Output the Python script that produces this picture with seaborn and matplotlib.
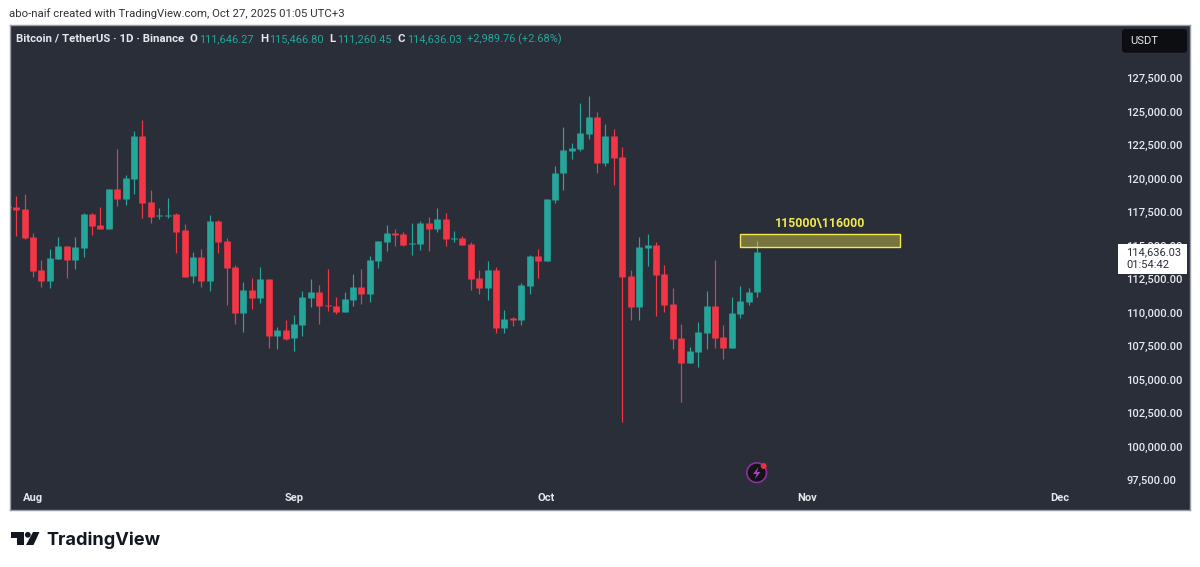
import matplotlib
matplotlib.use("Agg")
import matplotlib.pyplot as plt
import matplotlib.dates as mdates
from matplotlib.patches import FancyBboxPatch, Rectangle, Circle, Polygon
from matplotlib.transforms import IdentityTransform, ScaledTranslation
import numpy as np
import pandas as pd
import seaborn as sns

# ---------- data (BTC/USDT daily) ----------
first_day = "2025-07-29"
opens = [118070, 117994, 117845,
    115755,113292,112471,114113,115058,114063,114934,117497,116651,116377,119313,118616,120084,123294,118342,117322,117322,117447,116253,112819,114262,112471,116949,115456,113516,110082,111774,111202,112595,108366,108814,
    108192,109188,111203,111676,110705,110631,110158,111054,112024,111477,113940,115383,116030,115955,115209,115258,116801,116353,117099,115582,115681,115258,112671,111949,113293,108964,109685,109586,112099,114338,
    113988,118517,120507,122174,122298,123443,124712,121253,123294,121701,112819,110555,114934,115183,113018,110779,108191,106350,107146,108589,110580,108316,107470,110008,110903,111646.27]
closes = [117920, 117770, 115680,
    113217,112446,114212,115058,114063,114984,117497,116576,116352,119313,118616,120159,123294,118268,117273,117422,117422,116153,112794,114262,112471,116949,115382,113441,110082,111774,111202,112595,108366,108813,108143,
    109237,111278,111676,110631,110581,110133,111103,112049,111477,114014,115457,116030,115930,115159,115308,116801,116353,117099,115607,115681,115184,112596,111974,113293,108964,109635,109586,112173,114338,113989,
    118616,120557,122249,122373,123517,124712,121278,123294,121627,112744,110555,114984,115183,112943,110704,108117,106350,107221,108689,110580,108241,107470,110082,110978,111625,114636.03]
highs = [118070, 118815, 118964,
    116078,114038,114834,115755,115058,115755,117571,117571,117969,119313,122348,120358,123642,124488,119263,117919,118641,117571,116700,114610,114834,117397,117049,115655,113640,112421,112670,113541,112645,109012,109561,
    109934,111750,112596,112198,113367,111302,111651,112994,113343,114338,115457,116627,116378,116129,116826,116975,117274,117920,117522,116179,115831,115358,113293,113940,113492,110307,109760,112347,114412,114835,
    118616,121054,123940,122796,125732,126279,125085,124189,123791,122497,113292,115730,115979,115382,113640,111948,109261,107520,109435,111699,114038,109162,111252,112098,111923,115466.80]
lows = [117920, 115830, 115581,
    112744,112048,111923,114113,112670,113366,114287,115904,116327,116377,118069,118168,118989,117198,116775,117123,117148,114586,112744,112346,112048,111699,114536,110679,109261,108689,110356,110854,107445,107370,108068,
    107222,108367,110556,109262,110257,110009,110158,110606,110755,110929,113442,114736,115109,115084,114437,114761,114686,116129,115084,115383,115159,111800,111477,111054,108615,108615,109113,109163,111501,112671,
    113988,118268,119263,121552,122199,123095,120557,121054,119636,101971,109560,109560,113615,109858,110157,107370,103464,106325,106077,107420,107445,106624,107470,109709,110679,111260.45]

price_ticks = [97500,100000,102500,105000,107500,110000,112500,115000,117500,120000,122500,125000,127500]
month_ticks = ["2025-08-01","2025-09-01","2025-10-01","2025-11-01","2025-12-01"]
month_labels = ["Aug","Sep","Oct","Nov","Dec"]
zone_low, zone_high = 115000, 116000
zone_start, zone_end = "2025-10-24", "2025-11-12"
zone_label = "115000\\116000"

BG = "#2a2e39"; UP = "#26a69a"; DOWN = "#f23645"; TXT = "#e6e8ee"; YEL = "#f4e84f"

# ---------- frame ----------
W, H = 1200, 567
sns.set_theme(style="dark", rc={"axes.facecolor": BG, "figure.facecolor": "white",
                                "axes.edgecolor": "#9a9ea8", "axes.grid": False})
plt.rcParams["font.family"] = ["Roboto", "DejaVu Sans"]
fig = plt.figure(figsize=(W/100, H/100), dpi=100)
L, R, T, B = 10, 1190, 25, 510
ax = fig.add_axes([L/W, 1-B/H, (R-L)/W, (B-T)/H])

# ---------- candles via seaborn ----------
dates = pd.date_range(first_day, periods=len(opens), freq="D")
candles = pd.DataFrame({"date": dates, "o": opens, "h": highs, "l": lows, "c": closes})
candles["dir"] = np.where(candles.c >= candles.o, "up", "down")
wick = candles.melt(id_vars=["date", "dir"], value_vars=["h", "l"], value_name="price")
body = candles.melt(id_vars=["date", "dir"], value_vars=["o", "c"], value_name="price")
pal = {"up": UP, "down": DOWN}
sns.lineplot(data=wick, x="date", y="price", hue="dir", units="date", estimator=None, palette=pal,
             legend=False, ax=ax, linewidth=0.85, solid_capstyle="butt", sort=False)
sns.lineplot(data=body, x="date", y="price", hue="dir", units="date", estimator=None, palette=pal,
             legend=False, ax=ax, linewidth=4.8, solid_capstyle="butt", sort=False)

# ---------- scales ----------
px_per_day = 8.419
aug1 = pd.Timestamp("2025-08-01")
ax.set_xlim(aug1 + pd.Timedelta(days=(L-33)/px_per_day), aug1 + pd.Timedelta(days=(R-33)/px_per_day))
px_price = 74.63
ax.set_ylim(127500 - (B-79.6)*px_price, 127500 + (79.6-T)*px_price)

ax.set_xlabel(""); ax.set_ylabel("")
ax.set_xticks(pd.to_datetime(month_ticks)); ax.set_xticklabels(month_labels)
ax.yaxis.tick_right()
ax.set_yticks(price_ticks); ax.set_yticklabels([f"{v:,.2f}" for v in price_ticks])
ax.tick_params(axis="y", length=0, pad=-46, labelsize=8.0, labelcolor=TXT)
ax.tick_params(axis="x", length=0, pad=-11.9, labelsize=8, labelcolor=TXT)
for t in ax.get_xticklabels(): t.set_fontweight("bold")
lift = ScaledTranslation(0, 1.0/72, fig.dpi_scale_trans)
for t in ax.get_yticklabels():
    t.set_ha("left"); t.set_fontweight("medium")
    t.set_transform(t.get_transform() + lift)
for s in ax.spines.values():
    s.set_linewidth(1.0); s.set_color("#9a9ea8")

# ---------- yellow zone ----------
x0, x1 = mdates.date2num(pd.Timestamp(zone_start)), mdates.date2num(pd.Timestamp(zone_end))
ax.add_patch(Rectangle((x0, zone_low), x1-x0, zone_high-zone_low, facecolor=(0.93, 0.87, 0.3, 0.40),
                       edgecolor=YEL, linewidth=1.0, zorder=5))
ax.text(x0+(x1-x0)/2, zone_high+780, zone_label, color=YEL, ha="center", va="center",
        fontsize=8.8, fontweight="bold", zorder=6)

# ---------- helpers in pixel space ----------
def ft(x, y, s, **kw):
    kw.setdefault("va", "center"); kw.setdefault("zorder", 12)
    return fig.text(x/W, 1-y/H, s, **kw)
def add(p):
    p.set_transform(IdentityTransform()); fig.add_artist(p); return p

# header texts
ft(9, 14, "abo-naif created with TradingView.com, Oct 27, 2025 01:05 UTC+3", color="#333333", fontsize=8.2)
ft(16.5, 39, "Bitcoin / TetherUS · 1D · Binance", color=TXT, fontsize=8.2, fontweight="bold")
for x, s in [(190, "O"), (260, "H"), (329, "L"), (398, "C")]:
    ft(x, 39, s, color=TXT, fontsize=8.2, fontweight="bold")
for x, s in [(199.5, "111,646.27"), (269, "115,466.80"), (337, "111,260.45"), (407, "114,636.03"), (467, "+2,989.76 (+2.68%)")]:
    ft(x, 39, s, color=UP, fontsize=7.9)

# currency button
add(FancyBboxPatch((1124, H-50.7), 61, 19.7, boxstyle="round,pad=2,rounding_size=3", facecolor="#0d0e12",
                   edgecolor="none", zorder=10))
ft(1130, 41.5, "USDT", color=TXT, fontsize=8.1)

# last price tag
add(Rectangle((1118, H-274), 69, 30, facecolor="white", edgecolor="none", zorder=10))
ft(1126.5, 252.5, "114,636.03", color="#2a2e39", fontsize=8.0)
ft(1126.5, 265.5, "01:54:42", color="#2a2e39", fontsize=8.0)

# bolt icon
add(Circle((756.7, H-472.7), 9.8, facecolor="#131318", edgecolor="#8e2fa3", linewidth=1.2, zorder=10))
add(Polygon([(758.5,H-467),(753,H-474),(756.5,H-474),(755,H-479),(760.5,H-472),(757,H-472)],
            closed=True, facecolor="#a63fc4", edgecolor="none", zorder=11))
add(Circle((763.7, H-466), 3.0, facecolor="#e8323f", edgecolor="none", zorder=12))

# TradingView logo
add(Polygon([(11,H-532),(23.5,H-532),(23.5,H-545),(17,H-545),(17,H-538),(11,H-538)], closed=True,
            facecolor="#131722", edgecolor="none", zorder=10))
add(Circle((27.8, H-534.8), 2.9, facecolor="#131722", edgecolor="none", zorder=10))
add(Polygon([(33,H-532),(39.5,H-532),(33.5,H-545),(26,H-545)], closed=True,
            facecolor="#131722", edgecolor="none", zorder=10))
ft(46.2, 545, "TradingView", color="#131722", fontsize=13.1, fontweight="bold",
   family=["Inter", "DejaVu Sans"], va="baseline")

fig.savefig("out.png", dpi=100, facecolor="white")
